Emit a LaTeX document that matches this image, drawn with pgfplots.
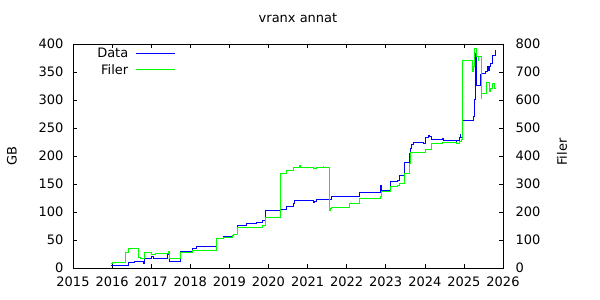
\documentclass[border=0pt]{standalone}
\usepackage{pgfplots}
\pgfplotsset{compat=1.18}
\usepackage{fontspec}
\setmainfont{DejaVu Sans}
\definecolor{gpblue}{RGB}{0,0,255}
\definecolor{gpgreen}{RGB}{0,255,0}
\begin{document}
\begin{tikzpicture}[x=1pt,y=1pt]
\path[use as bounding box] (0,0) rectangle (600,300);
\pgfplotsset{
  common/.style={
    at={(73pt,32pt)}, anchor=south west, scale only axis,
    width=430pt, height=224pt,
    xmin=2015, xmax=2026,
    tick align=inside, major tick length=4pt,
    tick style={black, line width=0.6pt},
    axis line style={black, line width=0.8pt},
    tick label style={font=\fontsize{13}{15}\selectfont},
    /pgf/number format/assume math mode=true,
    /pgf/number format/set thousands separator={},
  }
}
\begin{axis}[common,
  ymin=0, ymax=400,
  xtick={2015,2016,...,2026}, xtick pos=both,
  ytick={0,50,...,400}, ytick pos=left,
  xticklabel style={yshift=-5pt},
  yticklabel style={xshift=-6pt},
]
\addplot[const plot, gpblue, line width=1pt] coordinates {
(2015.97,5) (2016.42,10) (2016.57,12) (2016.70,11) (2016.80,8) (2016.82,16.6)
(2017.02,20) (2017.05,16.6) (2017.43,25) (2017.47,12) (2017.75,29) (2018.06,35)
(2018.16,38) (2018.67,52) (2018.85,56.5) (2019.09,58.4) (2019.11,60.7) (2019.20,73)
(2019.22,76) (2019.44,78.6) (2019.69,81) (2019.85,84) (2019.92,103) (2020.32,105)
(2020.45,109) (2020.65,115.5) (2020.67,121) (2021.14,117) (2021.19,119) (2021.24,123)
(2021.60,127) (2022.34,135.7) (2022.87,148) (2022.88,135.7) (2022.90,138)
(2022.94,139) (2023.13,153.6) (2023.30,157) (2023.34,163) (2023.36,165)
(2023.49,188) (2023.62,204) (2023.64,214) (2023.67,220) (2023.71,224)
(2023.97,222) (2024.03,233) (2024.10,236) (2024.11,234) (2024.16,230)
(2024.45,232) (2024.47,227) (2024.77,227) (2024.80,225) (2024.82,228)
(2024.88,233) (2024.91,239) (2024.92,233) (2024.97,264) (2025.24,270)
(2025.26,300) (2025.29,365) (2025.30,383) (2025.33,326) (2025.42,345)
(2025.46,348) (2025.55,350) (2025.61,359.5) (2025.64,352) (2025.66,359)
(2025.69,365.5) (2025.74,380) (2025.80,387.5) (2025.81,387.5)
};
\end{axis}
\begin{axis}[common,
  ymin=0, ymax=800,
  axis x line=none,
  axis y line*=right,
  ytick={0,100,...,800},
  yticklabel style={xshift=9pt},
  legend style={draw=none, fill=none, at={(rel axis cs:0.2465,0.995)}, anchor=north east,
    font=\fontsize{13}{15}\selectfont, nodes={inner sep=1pt}, row sep=3pt},
  legend cell align=right,
  legend plot pos=right,
  legend image code/.code={\path[draw=none] (0pt,0pt) -- (7pt,0pt); \draw[#1, line width=1pt] (7pt,0pt) -- (46pt,0pt);},
]
\addlegendimage{gpblue}
\addlegendentry{Data}
\addplot[const plot, gpgreen, line width=1pt] coordinates {
(2015.97,17) (2016.02,21) (2016.35,56) (2016.42,70) (2016.68,37) (2016.72,33)
(2016.82,45) (2016.84,54) (2017.02,49) (2017.11,52) (2017.45,60) (2017.46,56)
(2017.47,35) (2017.75,56) (2018.06,64) (2018.67,106) (2018.85,110) (2019.09,115)
(2019.11,121) (2019.20,143) (2019.85,152) (2019.92,181) (2020.32,338) (2020.45,348)
(2020.65,360) (2020.80,366) (2020.81,360) (2021.14,356) (2021.24,360) (2021.40,364)
(2021.41,360) (2021.56,204) (2021.58,211) (2021.60,217) (2022.08,231) (2022.34,249)
(2022.87,257) (2022.89,272) (2023.13,290) (2023.30,293) (2023.34,302) (2023.49,338)
(2023.62,374) (2023.64,413) (2024.03,424) (2024.16,443) (2024.45,449) (2024.82,445)
(2024.88,452) (2024.93,460) (2024.97,740) (2025.22,740) (2025.23,700) (2025.25,720)
(2025.27,740) (2025.28,785) (2025.32,755) (2025.37,740) (2025.38,755) (2025.44,606)
(2025.46,624) (2025.59,663) (2025.66,630) (2025.69,642) (2025.73,660) (2025.79,642)
(2025.81,642)
};
\addlegendentry{Filer}
\end{axis}
\node[font=\fontsize{13}{15}\selectfont] at (298,282) {vranx annat};
\node[font=\fontsize{13}{15}\selectfont, rotate=90] at (12,144) {GB};
\node[font=\fontsize{13}{15}\selectfont, rotate=90] at (562,148) {Filer};
\end{tikzpicture}
\end{document}
